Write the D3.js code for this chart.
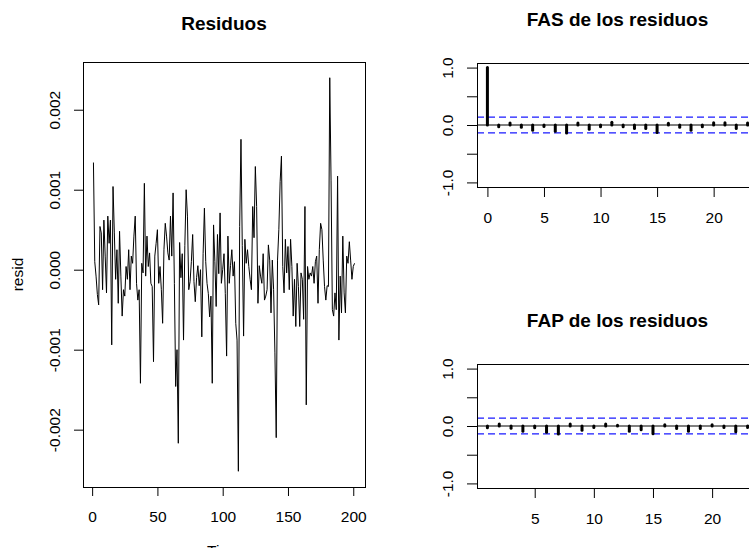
<!DOCTYPE html>
<html>
<head>
<meta charset="utf-8">
<script src="https://cdn.jsdelivr.net/npm/d3@7"></script>
<style>
  body { margin: 0; background: #fff; }
  svg { display: block; font-family: "Liberation Sans", Arial, sans-serif; }
</style>
</head>
<body>
<div id="chart"></div>
<script>
// residuals, in units of 1e-4 (t = 1..201)
const residE4 = [
  13.4, 1.0, -0.8, -3.1, -4.4, 5.4, 4.6, -2.5, 6.2, 1.7,
  -2.9, 6.7, 3.3, 6.2, -9.4, 10.4, 4.6, -1.2, 2.5, -4.2,
  4.8, -0.8, -5.8, -2.5, -3.3, 0.4, -1.2, 2.5, -2.5, 1.7,
  0.8, 4.2, 6.7, -1.7, -3.8, -2.5, -14.2, 0.8, -0.4, 10.8,
  -0.8, 4.2, 0.4, 2.1, -1.7, -2.1, -11.5, 1.7, 3.3, 5.0,
  -1.7, 0.4, -2.5, -6.7, 2.5, 5.8, 4.2, 2.1, 1.2, 6.7,
  1.7, 9.6, -1.7, -14.6, -10.0, -21.7, 3.4, -1.0, 2.0, -8.8,
  3.0, 10.0, 6.7, -2.5, -1.5, 1.0, 4.4, -1.5, -4.0, -1.0,
  0.5, -2.0, 0.0, -8.4, 2.0, 7.7, 1.0, -1.7, -3.0, -5.9,
  -3.3, -14.2, 5.6, 1.0, -4.6, 4.4, -0.5, 7.1, -1.7, 0.0,
  2.0, -3.0, -10.8, 4.2, -1.7, 0.5, 2.5, -0.8, 1.0, -6.7,
  -8.8, -25.2, 5.4, 16.3, 3.0, -8.3, 3.8, 0.8, 2.5, 0.4,
  -1.2, -2.5, 7.9, 4.0, 12.9, 7.9, -4.2, 0.5, -0.8, -1.7,
  2.0, -3.8, -3.3, -2.5, 3.1, 1.2, -5.4, 1.2, -2.5, -10.4,
  -21.0, 1.2, 5.0, 11.0, 14.2, 0.4, -2.9, 3.8, -0.4, 2.9,
  -2.5, 3.8, 0.4, -5.8, -1.2, -7.1, 0.8, -2.1, -7.1, -0.4,
  -1.2, -6.2, 7.9, -16.9, 0.4, -1.2, -0.4, -0.8, 0.4, -1.7,
  1.0, 1.7, -4.2, 2.5, 5.8, 5.0, 1.2, -2.1, -3.8, -2.0,
  -2.1, 24.0, 11.2, -5.0, -5.8, -2.9, -5.0, 11.7, -8.8, -0.8,
  -5.4, 4.2, -2.9, -5.4, 1.7, 0.8, 3.5, 1.2, -1.2, 0.4,
  0.8
];
const residTicksX = [0, 50, 100, 150, 200];
const residTicksY = [-20, -10, 0, 10, 20];
const residTickLabels = ["-0.002", "-0.001", "0.000", "0.001", "0.002"];

const acfLags = [0, 1, 2, 3, 4, 5, 6, 7, 8, 9, 10, 11, 12, 13, 14, 15, 16, 17, 18, 19, 20, 21, 22, 23];
const acfVals = [1.0, -0.03, 0.035, -0.04, -0.09, -0.025, -0.11, -0.14, 0.035, -0.075, -0.03, 0.05,
  -0.03, -0.06, -0.06, -0.13, 0.03, -0.04, -0.09, -0.03, 0.04, 0.04, -0.06, 0.035];

const pacfLags = [1, 2, 3, 4, 5, 6, 7, 8, 9, 10, 11, 12, 13, 14, 15, 16, 17, 18, 19, 20, 21, 22, 23];
const pacfVals = [-0.03, 0.035, -0.04, -0.09, -0.03, -0.11, -0.14, 0.035, -0.075, -0.025, 0.035, 0.015,
  -0.09, -0.065, -0.135, 0.02, -0.045, -0.09, -0.045, 0.02, -0.025, -0.1, -0.025];

const ciBound = 0.138;
const corrTicksY = [-1, -0.5, 0, 0.5, 1];
const corrTickLabels = ["-1.0", "", "0.0", "", "1.0"];
const acfTicksX = [0, 5, 10, 15, 20];
const pacfTicksX = [5, 10, 15, 20];

const W = 749, H = 548;
const tickFont = 15.5, titleFont = 19;

const svg = d3.select("#chart").append("svg").attr("width", W).attr("height", H);

// R-style 4% padding on a range
function padded(lo, hi) {
  const p = (hi - lo) * 0.04;
  return [lo - p, hi + p];
}

function styleAxis(g) {
  g.select(".domain").remove();
  g.selectAll(".tick line").attr("stroke", "#000");
  g.selectAll("text").attr("fill", "#000").style("font-size", tickFont + "px")
    .style("font-family", '"Liberation Sans", Arial, sans-serif');
}

function rotateYLabels(g, offset) {
  g.selectAll(".tick text")
    .attr("x", null).attr("dy", null)
    .attr("text-anchor", "middle")
    .attr("transform", `translate(${-offset},0) rotate(-90)`);
}

// ---- left panel: residual series ----
const L = { x0: 83, x1: 365, y0: 62, y1: 487 };
const idx = residE4.map((d, i) => i + 1);

const xRes = d3.scaleLinear().domain(padded(1, residE4.length)).range([L.x0, L.x1]);
const yRes = d3.scaleLinear().domain(padded(d3.min(residE4), d3.max(residE4))).range([L.y1, L.y0]);

svg.append("path")
  .datum(residE4)
  .attr("fill", "none")
  .attr("stroke", "#000")
  .attr("stroke-width", 1)
  .attr("d", d3.line().x((d, i) => xRes(idx[i])).y((d) => yRes(d)));

svg.append("g").attr("transform", `translate(0,${L.y1})`)
  .call(d3.axisBottom(xRes).tickValues(residTicksX).tickSize(9).tickPadding(15))
  .call(styleAxis);

svg.append("g").attr("transform", `translate(${L.x0},0)`)
  .call(d3.axisLeft(yRes).tickValues(residTicksY).tickSize(9)
    .tickFormat((d, i) => residTickLabels[i]))
  .call(styleAxis)
  .call((g) => rotateYLabels(g, 23));

svg.append("rect")
  .attr("x", L.x0 + 0.5).attr("y", L.y0 + 0.5)
  .attr("width", L.x1 - L.x0).attr("height", L.y1 - L.y0)
  .attr("fill", "none").attr("stroke", "#000");

svg.append("text")
  .attr("x", (L.x0 + L.x1) / 2).attr("y", 30)
  .attr("text-anchor", "middle")
  .style("font-weight", "bold").style("font-size", titleFont + "px")
  .text("Residuos");

svg.append("text")
  .attr("transform", `translate(23,${(L.y0 + L.y1) / 2}) rotate(-90)`)
  .attr("text-anchor", "middle")
  .style("font-size", tickFont + "px")
  .text("resid");

// x label sits mostly below the window, as in the original
svg.append("text")
  .attr("x", (L.x0 + L.x1) / 2).attr("y", 556)
  .attr("text-anchor", "middle")
  .style("font-size", tickFont + "px")
  .text("Time");

// ---- right panels: FAS / FAP ----
function corrPanel(box, lags, vals, ticksX, title, titleY) {
  const x = d3.scaleLinear().domain(padded(d3.min(lags), d3.max(lags))).range([box.x0, box.x1]);
  const y = d3.scaleLinear().domain(padded(-1, 1)).range([box.y1, box.y0]);

  const g = svg.append("g");

  // confidence bounds first, bars and zero line on top
  [ciBound, -ciBound].forEach((c) => {
    g.append("line")
      .attr("x1", box.x0).attr("x2", box.x1)
      .attr("y1", y(c)).attr("y2", y(c))
      .attr("stroke", "#1a1aff").attr("stroke-width", 1.1)
      .attr("stroke-dasharray", "7,4");
  });

  g.append("line")
    .attr("x1", box.x0).attr("x2", box.x1)
    .attr("y1", y(0)).attr("y2", y(0))
    .attr("stroke", "#000");

  g.selectAll(".bar")
    .data(vals)
    .enter()
    .append("line")
    .attr("class", "bar")
    .attr("x1", (d, i) => x(lags[i])).attr("x2", (d, i) => x(lags[i]))
    .attr("y1", y(0)).attr("y2", (d) => y(d))
    .attr("stroke", "#000").attr("stroke-width", 3).attr("stroke-linecap", "round");

  svg.append("g").attr("transform", `translate(0,${box.y1})`)
    .call(d3.axisBottom(x).tickValues(ticksX).tickSize(10).tickPadding(15))
    .call(styleAxis);

  svg.append("g").attr("transform", `translate(${box.x0},0)`)
    .call(d3.axisLeft(y).tickValues(corrTicksY).tickSize(10)
      .tickFormat((d, i) => corrTickLabels[i]))
    .call(styleAxis)
    .call((ax) => rotateYLabels(ax, 24));

  svg.append("rect")
    .attr("x", box.x0 + 0.5).attr("y", box.y0 + 0.5)
    .attr("width", box.x1 - box.x0).attr("height", box.y1 - box.y0)
    .attr("fill", "none").attr("stroke", "#000");

  svg.append("text")
    .attr("x", (box.x0 + box.x1) / 2).attr("y", titleY)
    .attr("text-anchor", "middle")
    .style("font-weight", "bold").style("font-size", titleFont + "px")
    .text(title);
}

corrPanel({ x0: 477, x1: 758, y0: 63, y1: 187 }, acfLags, acfVals, acfTicksX, "FAS de los residuos", 26);
corrPanel({ x0: 477, x1: 758, y0: 364, y1: 488 }, pacfLags, pacfVals, pacfTicksX, "FAP de los residuos", 327);
</script>
</body>
</html>
